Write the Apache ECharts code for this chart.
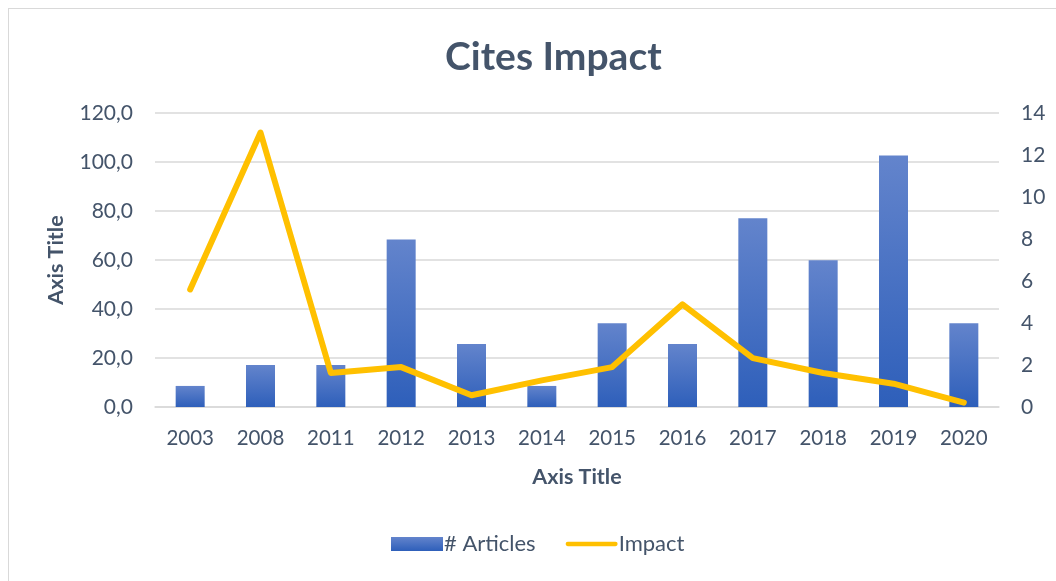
<!DOCTYPE html>
<html>
<head>
<meta charset="utf-8">
<script src="https://cdn.jsdelivr.net/npm/echarts@6/dist/echarts.min.js"></script>
<style>
  html, body { margin: 0; padding: 0; background: #fff; }
  #frame { position: absolute; left: 8px; top: 8px; width: 1060px; height: 590px; border: 1.5px solid #d9d9d9; }
  #chart { position: absolute; left: 0; top: 0; width: 1056px; height: 581px; }
</style>
</head>
<body>
<div id="frame"></div>
<div id="chart"></div>
<script>
const years = ['2003', '2008', '2011', '2012', '2013', '2014', '2015', '2016', '2017', '2018', '2019', '2020']
const articles = [8.6, 17.1, 17.1, 68.4, 25.7, 8.6, 34.2, 25.7, 77.0, 59.9, 102.7, 34.2]
const impact = [5.6, 13.07, 1.62, 1.9, 0.56, 1.27, 1.9, 4.89, 2.33, 1.62, 1.11, 0.21]

const textColor = '#44546a'
const font = 'Lato, "Open Sans", sans-serif'

const chart = echarts.init(document.getElementById('chart'))
chart.setOption({
  animation: false,
  textStyle: { fontFamily: font, color: textColor },
  title: {
    text: 'Cites Impact',
    left: 440,
    top: 33,
    textStyle: { fontSize: 39, fontWeight: 'bold', color: textColor, fontFamily: font }
  },
  grid: { left: 155, right: 57, top: 113, bottom: 174 },
  legend: {
    bottom: 21,
    left: 386,
    itemGap: 30,
    itemHeight: 14,
    itemWidth: 52,
    textStyle: { fontSize: 22, color: textColor, padding: [0, 0, 0, -4] },
    data: [
      { name: '# Articles', icon: 'rect' },
      { name: 'Impact', icon: 'path://M2,0 L58,0 A2,2 0 0 1 58,5 L2,5 A2,2 0 0 1 2,0 Z', itemStyle: { color: '#ffc000' } }
    ]
  },
  xAxis: {
    type: 'category',
    data: years,
    name: 'Axis Title',
    nameLocation: 'middle',
    nameGap: 59,
    nameTextStyle: { fontSize: 21.5, fontWeight: 'bold', color: textColor },
    axisTick: { show: false },
    axisLine: { lineStyle: { color: '#d9d9d9', width: 1.5 } },
    axisLabel: { fontSize: 20.5, color: textColor, margin: 21 }
  },
  yAxis: [
    {
      type: 'value',
      min: 0,
      max: 120,
      interval: 20,
      name: 'Axis Title',
      nameLocation: 'middle',
      nameGap: 88,
      nameRotate: 90,
      nameTextStyle: { fontSize: 21.5, fontWeight: 'bold', color: textColor },
      axisLabel: {
        fontSize: 21,
        color: textColor,
        margin: 22,
        formatter: v => v.toFixed(1).replace('.', ',')
      },
      splitLine: { lineStyle: { color: '#d9d9d9', width: 1.5 } }
    },
    {
      type: 'value',
      min: 0,
      max: 14,
      interval: 2,
      axisLabel: { fontSize: 21, color: textColor, margin: 22 },
      splitLine: { show: false }
    }
  ],
  series: [
    {
      name: '# Articles',
      type: 'bar',
      data: articles,
      barWidth: 29,
      itemStyle: {
        color: new echarts.graphic.LinearGradient(0, 0, 0, 1, [
          { offset: 0, color: '#6384cc' },
          { offset: 1, color: '#2e5fba' }
        ])
      }
    },
    {
      name: 'Impact',
      type: 'line',
      yAxisIndex: 1,
      data: impact,
      symbol: 'none',
      lineStyle: { color: '#ffc000', width: 6, cap: 'round', join: 'round' },
      itemStyle: { color: '#ffc000' }
    }
  ]
})
</script>
</body>
</html>
